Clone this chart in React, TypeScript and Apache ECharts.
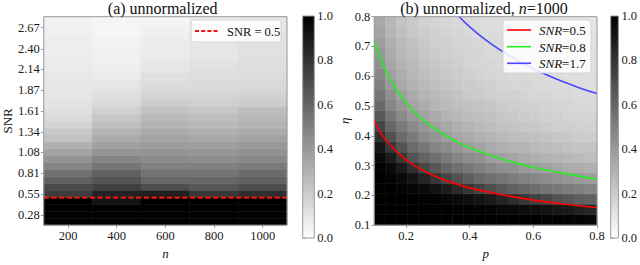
import React, { useEffect, useRef } from "react";
import * as echarts from "echarts";

// ---------- panel (a) ----------
const nCols = [200, 400, 600, 800, 1000];
const snrTicks = [0.28, 0.55, 0.81, 1.08, 1.34, 1.61, 1.87, 2.14, 2.4, 2.67];
const snrBottom = 0.15;
const snrStep = 0.0887; // 30 rows
// fraction (0..1) per SNR row (bottom -> top) for each n
const fracN200 = [1, 1, 1, 1, 0.76, 0.71, 0.62, 0.56, 0.48, 0.42, 0.36, 0.31, 0.24, 0.21, 0.17, 0.14, 0.12, 0.11, 0.1, 0.1, 0.09, 0.09, 0.08, 0.08, 0.07, 0.07, 0.07, 0.06, 0.06, 0.05];
const fracN400 = [1, 1, 1, 0.92, 0.87, 0.75, 0.67, 0.62, 0.54, 0.48, 0.42, 0.37, 0.33, 0.29, 0.25, 0.22, 0.18, 0.15, 0.13, 0.11, 0.1, 0.08, 0.07, 0.06, 0.06, 0.05, 0.05, 0.04, 0.04, 0.04];
const fracN600 = [1, 1, 1, 1, 0.88, 0.7, 0.6, 0.55, 0.5, 0.46, 0.42, 0.39, 0.36, 0.33, 0.3, 0.27, 0.24, 0.2, 0.17, 0.15, 0.13, 0.12, 0.1, 0.09, 0.08, 0.08, 0.07, 0.06, 0.05, 0.04];
const fracN800 = [1, 1, 1, 1, 0.78, 0.66, 0.6, 0.55, 0.5, 0.45, 0.41, 0.38, 0.34, 0.31, 0.28, 0.25, 0.22, 0.19, 0.17, 0.15, 0.14, 0.13, 0.12, 0.11, 0.1, 0.1, 0.09, 0.09, 0.08, 0.08];
const fracN1000 = [1, 1, 1, 1, 0.82, 0.7, 0.62, 0.58, 0.52, 0.47, 0.43, 0.4, 0.36, 0.33, 0.3, 0.28, 0.26, 0.2, 0.18, 0.16, 0.15, 0.14, 0.13, 0.13, 0.12, 0.12, 0.11, 0.11, 0.1, 0.1];
const fracByN = [fracN200, fracN400, fracN600, fracN800, fracN1000];
const snrLine = 0.5;

// ---------- panel (b) ----------
const pMin = 0.1;
const cellStep = 0.035; // 20 x 20 cells on [0.1, 0.8]
const pTicks = [0.2, 0.4, 0.6, 0.8];
// rows from eta = 0.1 (bottom) to eta = 0.8 (top); columns p = 0.1 -> 0.8
const fracB: number[][] = [
  [1, 1, 1, 1, 1, 1, 1, 1, 1, 1, 1, 1, 1, 1, 1, 0.99, 0.99, 0.99, 0.99, 0.98],
  [1, 1, 1, 1, 1, 1, 1, 0.99, 0.99, 0.99, 0.98, 0.97, 0.96, 0.95, 0.94, 0.93, 0.91, 0.9, 0.87, 0.85],
  [1, 1, 1, 1, 0.99, 0.99, 0.97, 0.96, 0.94, 0.92, 0.9, 0.86, 0.82, 0.78, 0.75, 0.72, 0.68, 0.66, 0.63, 0.62],
  [1, 1, 0.99, 0.98, 0.96, 0.93, 0.89, 0.84, 0.79, 0.74, 0.7, 0.66, 0.62, 0.6, 0.57, 0.55, 0.53, 0.51, 0.5, 0.48],
  [1, 0.99, 0.96, 0.92, 0.86, 0.79, 0.73, 0.68, 0.63, 0.59, 0.56, 0.54, 0.51, 0.49, 0.47, 0.45, 0.43, 0.41, 0.4, 0.38],
  [0.99, 0.96, 0.9, 0.81, 0.72, 0.66, 0.6, 0.56, 0.53, 0.5, 0.47, 0.44, 0.43, 0.4, 0.38, 0.36, 0.35, 0.33, 0.32, 0.31],
  [0.96, 0.89, 0.78, 0.68, 0.61, 0.56, 0.52, 0.48, 0.45, 0.43, 0.39, 0.37, 0.35, 0.33, 0.31, 0.3, 0.29, 0.28, 0.27, 0.26],
  [0.91, 0.78, 0.67, 0.58, 0.53, 0.48, 0.45, 0.41, 0.38, 0.36, 0.33, 0.31, 0.3, 0.29, 0.27, 0.26, 0.25, 0.24, 0.23, 0.23],
  [0.82, 0.68, 0.58, 0.52, 0.46, 0.42, 0.38, 0.35, 0.33, 0.31, 0.29, 0.27, 0.26, 0.25, 0.24, 0.23, 0.22, 0.21, 0.2, 0.2],
  [0.73, 0.6, 0.52, 0.46, 0.41, 0.37, 0.34, 0.31, 0.29, 0.27, 0.26, 0.24, 0.23, 0.22, 0.21, 0.2, 0.19, 0.19, 0.18, 0.18],
  [0.65, 0.54, 0.46, 0.4, 0.36, 0.33, 0.3, 0.28, 0.26, 0.25, 0.24, 0.22, 0.21, 0.2, 0.19, 0.18, 0.18, 0.17, 0.17, 0.16],
  [0.59, 0.48, 0.41, 0.36, 0.32, 0.29, 0.27, 0.25, 0.24, 0.23, 0.22, 0.2, 0.19, 0.18, 0.18, 0.17, 0.16, 0.16, 0.15, 0.15],
  [0.54, 0.44, 0.37, 0.33, 0.29, 0.27, 0.25, 0.23, 0.21, 0.2, 0.19, 0.18, 0.18, 0.17, 0.16, 0.16, 0.15, 0.15, 0.14, 0.14],
  [0.5, 0.4, 0.34, 0.3, 0.27, 0.25, 0.23, 0.21, 0.2, 0.19, 0.18, 0.17, 0.16, 0.16, 0.15, 0.15, 0.14, 0.14, 0.135, 0.13],
  [0.47, 0.37, 0.32, 0.28, 0.25, 0.23, 0.21, 0.2, 0.18, 0.17, 0.16, 0.16, 0.15, 0.15, 0.14, 0.14, 0.135, 0.13, 0.13, 0.125],
  [0.43, 0.35, 0.3, 0.27, 0.24, 0.22, 0.2, 0.19, 0.17, 0.16, 0.16, 0.15, 0.15, 0.14, 0.14, 0.135, 0.13, 0.13, 0.125, 0.12],
  [0.41, 0.33, 0.28, 0.25, 0.22, 0.2, 0.19, 0.18, 0.17, 0.16, 0.15, 0.15, 0.14, 0.14, 0.13, 0.13, 0.125, 0.12, 0.12, 0.12],
  [0.38, 0.31, 0.27, 0.24, 0.21, 0.19, 0.18, 0.17, 0.16, 0.15, 0.145, 0.14, 0.135, 0.13, 0.125, 0.12, 0.12, 0.12, 0.115, 0.11],
  [0.36, 0.29, 0.25, 0.22, 0.2, 0.18, 0.17, 0.16, 0.15, 0.145, 0.14, 0.135, 0.13, 0.125, 0.12, 0.12, 0.115, 0.11, 0.11, 0.11],
  [0.34, 0.28, 0.23, 0.21, 0.18, 0.17, 0.16, 0.15, 0.145, 0.14, 0.135, 0.13, 0.125, 0.12, 0.12, 0.115, 0.11, 0.11, 0.105, 0.1],
];
// level curves
const curveP = [0.1, 0.12, 0.15, 0.2, 0.25, 0.3, 0.35, 0.4, 0.5, 0.6, 0.7, 0.8];
const etaSnr05 = [0.451, 0.411, 0.368, 0.319, 0.285, 0.26, 0.241, 0.225, 0.202, 0.184, 0.17, 0.159];
const etaSnr08 = [0.721, 0.658, 0.589, 0.51, 0.456, 0.416, 0.385, 0.36, 0.322, 0.294, 0.273, 0.255];
const blueP = [0.367, 0.4, 0.45, 0.5, 0.55, 0.6, 0.65, 0.7, 0.75, 0.8];
const etaSnr17 = [0.8, 0.766, 0.722, 0.685, 0.653, 0.625, 0.601, 0.579, 0.559, 0.542];

const FONT = "Liberation Serif, serif";
const TXT = "#1a1a1a";
const FRAME = "#9a9a9a";

const cellRender = (params: any, api: any) => {
  const a = api.coord([api.value(0), api.value(3)]);
  const b = api.coord([api.value(1), api.value(2)]);
  const c = api.visual("color");
  return {
    type: "rect",
    shape: { x: a[0], y: a[1], width: b[0] - a[0], height: b[1] - a[1] },
    style: { fill: c, stroke: c, lineWidth: 0.6 },
  };
};

const barRender = (params: any, api: any) => {
  const a = api.coord([0, 1]);
  const b = api.coord([1, 0]);
  return {
    type: "rect",
    shape: { x: a[0], y: a[1], width: b[0] - a[0], height: b[1] - a[1] },
    style: {
      fill: new echarts.graphic.LinearGradient(0, 0, 0, 1, [
        { offset: 0, color: "#000000" },
        { offset: 1, color: "#ffffff" },
      ]),
      stroke: FRAME,
      lineWidth: 1,
    },
  };
};

const serifRich = { s: { fontFamily: FONT, fontSize: 12.5, color: TXT } };
const fmt = (digits: number) => (v: number) => `{s|${digits < 0 ? String(v) : v.toFixed(digits)}}`;

export default function App() {
  const ref = useRef<HTMLDivElement>(null);
  useEffect(() => {
    document.body.style.margin = "0";
    const chart = echarts.init(ref.current!, undefined, { renderer: "svg" });

    const dataA: number[][] = [];
    nCols.forEach((n, i) => {
      fracByN[i].forEach((v, k) => {
        dataA.push([n - 100, n + 100, snrBottom + k * snrStep, snrBottom + (k + 1) * snrStep, v]);
      });
    });
    const dataB: number[][] = [];
    fracB.forEach((row, j) => {
      row.forEach((v, i) => {
        dataB.push([pMin + i * cellStep, pMin + (i + 1) * cellStep, pMin + j * cellStep, pMin + (j + 1) * cellStep, v]);
      });
    });

    const lab = { fontFamily: FONT, fontSize: 12.5, color: TXT, rich: serifRich };
    const tick = { length: 3, lineStyle: { color: FRAME } };
    const gridBase = { show: true, borderColor: FRAME, borderWidth: 1, backgroundColor: "transparent", z: 5 };

    const option: any = {
      animation: false,
      textStyle: { fontFamily: FONT },
      grid: [
        { ...gridBase, left: 38.5, top: 16.7, width: 248.5, height: 220.6 },
        { left: 302.7, top: 16, width: 11.6, height: 222 },
        { ...gridBase, left: 374.3, top: 16.7, width: 222.7, height: 220.6 },
        { left: 610.7, top: 16, width: 11.6, height: 222 },
      ],
      visualMap: [
        { type: "continuous", show: false, seriesIndex: [0, 2], dimension: 4, min: 0, max: 1, inRange: { color: ["#ffffff", "#000000"] } },
      ],
      xAxis: [
        {
          gridIndex: 0, type: "value", min: 100, max: 1100,
          name: "n", nameLocation: "middle", nameGap: 18,
          nameTextStyle: { fontFamily: FONT, fontSize: 13, fontStyle: "italic", color: TXT },
          axisLine: { show: false }, splitLine: { show: false },
          axisTick: { ...tick, customValues: nCols },
          axisLabel: { ...lab, margin: 4, customValues: nCols, formatter: fmt(-1) },
        },
        { gridIndex: 1, type: "value", min: 0, max: 1, show: false },
        {
          gridIndex: 2, type: "value", min: 0.1, max: 0.8,
          name: "p", nameLocation: "middle", nameGap: 18,
          nameTextStyle: { fontFamily: FONT, fontSize: 13, fontStyle: "italic", color: TXT },
          axisLine: { show: false }, splitLine: { show: false },
          axisTick: { ...tick, customValues: pTicks },
          axisLabel: { ...lab, margin: 4, customValues: pTicks, formatter: fmt(1) },
        },
        { gridIndex: 3, type: "value", min: 0, max: 1, show: false },
      ],
      yAxis: [
        {
          gridIndex: 0, type: "value", min: snrBottom, max: snrBottom + 30 * snrStep,
          name: "SNR", nameLocation: "middle", nameGap: 29,
          nameTextStyle: { fontFamily: FONT, fontSize: 13, color: TXT },
          axisLine: { show: false }, splitLine: { show: false },
          axisTick: { ...tick, customValues: snrTicks },
          axisLabel: { ...lab, margin: 4, customValues: snrTicks, formatter: fmt(2) },
        },
        {
          gridIndex: 1, type: "value", min: 0, max: 1, interval: 0.2, position: "right",
          axisLine: { show: false }, splitLine: { show: false },
          axisTick: { show: true, length: 2.5, lineStyle: { color: FRAME } },
          axisLabel: { ...lab, margin: 3, formatter: fmt(1) },
        },
        {
          gridIndex: 2, type: "value", min: 0.1, max: 0.8, interval: 0.1,
          name: "η", nameLocation: "middle", nameGap: 23,
          nameTextStyle: { fontFamily: FONT, fontSize: 13, fontStyle: "italic", color: TXT },
          axisLine: { show: false }, splitLine: { show: false },
          axisTick: tick,
          axisLabel: { ...lab, margin: 4, formatter: fmt(1) },
        },
        {
          gridIndex: 3, type: "value", min: 0, max: 1, interval: 0.2, position: "right",
          axisLine: { show: false }, splitLine: { show: false },
          axisTick: { show: true, length: 2.5, lineStyle: { color: FRAME } },
          axisLabel: { ...lab, margin: 3, formatter: fmt(1) },
        },
      ],
      series: [
        { type: "custom", xAxisIndex: 0, yAxisIndex: 0, renderItem: cellRender, data: dataA, encode: { x: [0, 1], y: [2, 3] }, z: 1 },
        {
          type: "line", xAxisIndex: 0, yAxisIndex: 0, symbol: "none",
          data: [[100, snrLine], [1100, snrLine]],
          lineStyle: { color: "#ee1515", width: 2.2, type: [5, 2.7] }, z: 3,
        },
        { type: "custom", xAxisIndex: 2, yAxisIndex: 2, renderItem: cellRender, data: dataB, encode: { x: [0, 1], y: [2, 3] }, z: 1 },
        {
          type: "line", xAxisIndex: 2, yAxisIndex: 2, symbol: "none", smooth: 0.4,
          data: curveP.map((p, i) => [p, etaSnr05[i]]),
          lineStyle: { color: "#ff0000", width: 1.6 }, z: 3,
        },
        {
          type: "line", xAxisIndex: 2, yAxisIndex: 2, symbol: "none", smooth: 0.4,
          data: curveP.map((p, i) => [p, etaSnr08[i]]),
          lineStyle: { color: "#22ee22", width: 1.6 }, z: 3,
        },
        {
          type: "line", xAxisIndex: 2, yAxisIndex: 2, symbol: "none", smooth: 0.4, clip: true,
          data: blueP.map((p, i) => [p, etaSnr17[i]]),
          lineStyle: { color: "#4646ff", width: 1.6 }, z: 3,
        },
        { type: "custom", xAxisIndex: 1, yAxisIndex: 1, renderItem: barRender, data: [[0, 0]] },
        { type: "custom", xAxisIndex: 3, yAxisIndex: 3, renderItem: barRender, data: [[0, 0]] },
      ],
      graphic: [
        {
          type: "text", x: 162.7, y: 8.5, z: 50,
          style: { text: "(a) unnormalized", fontFamily: FONT, fontSize: 16, fill: "#111", align: "center", verticalAlign: "middle" },
        },
        {
          type: "text", x: 484, y: 8.5, z: 50,
          style: {
            text: "{a|(b) unnormalized, }{i|n}{a|=1000}", align: "center", verticalAlign: "middle",
            rich: {
              a: { fontFamily: FONT, fontSize: 16, fill: "#111" },
              i: { fontFamily: FONT, fontSize: 16, fontStyle: "italic", fill: "#111" },
            },
          },
        },
        // legend (a)
        {
          type: "rect", z: 50, shape: { x: 191, y: 20, width: 90, height: 22, r: 3 },
          style: { fill: "rgba(255,255,255,0.85)", stroke: "#d4d4d4", lineWidth: 1 },
        },
        {
          type: "line", z: 51, shape: { x1: 195, y1: 31, x2: 218, y2: 31 },
          style: { stroke: "#ee1515", lineWidth: 2, lineDash: [4, 2.2] },
        },
        {
          type: "text", z: 51, x: 227, y: 31.5,
          style: { text: "SNR = 0.5", fontFamily: FONT, fontSize: 12.5, fill: "#111", verticalAlign: "middle" },
        },
        // legend (b)
        {
          type: "rect", z: 50, shape: { x: 503, y: 20, width: 88, height: 53, r: 3 },
          style: { fill: "rgba(255,255,255,0.85)", stroke: "#d4d4d4", lineWidth: 1 },
        },
        ...[
          { c: "#ff0000", t: "0.5", y: 30 },
          { c: "#22ee22", t: "0.8", y: 46.7 },
          { c: "#4646ff", t: "1.7", y: 63.3 },
        ].flatMap((e) => [
          { type: "line", z: 51, shape: { x1: 507, y1: e.y, x2: 531, y2: e.y }, style: { stroke: e.c, lineWidth: 1.6 } },
          {
            type: "text", z: 51, x: 539, y: e.y + 0.5,
            style: {
              text: `{i|SNR}{n|=${e.t}}`, verticalAlign: "middle",
              rich: {
                i: { fontFamily: FONT, fontSize: 13, fontStyle: "italic", fill: "#111" },
                n: { fontFamily: FONT, fontSize: 13, fill: "#111" },
              },
            },
          },
        ]),
      ],
    };
    chart.setOption(option);
    return () => chart.dispose();
  }, []);
  return <div ref={ref} style={{ width: 640, height: 265 }} />;
}
